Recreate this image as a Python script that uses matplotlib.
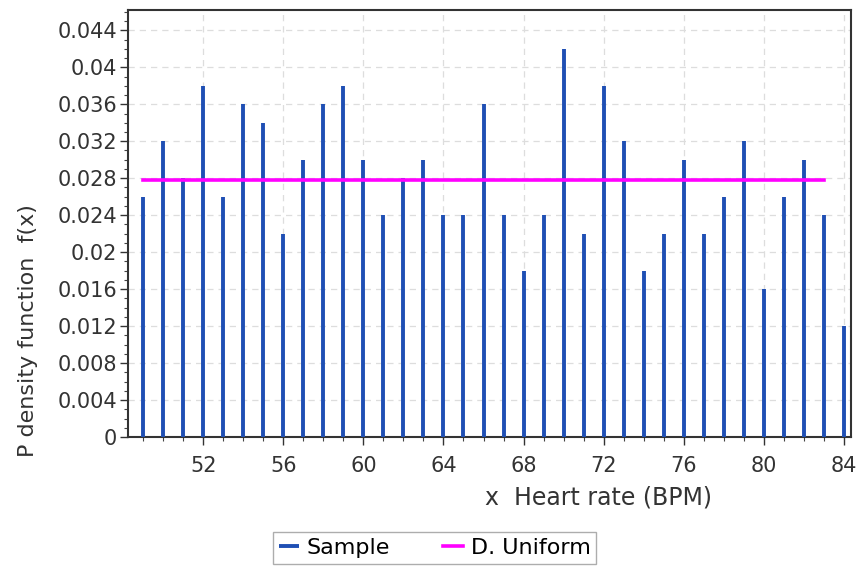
import numpy as np
import matplotlib.pyplot as plt
from matplotlib.ticker import MultipleLocator

heart_rate = list(range(49, 85))
sample_pdf = [0.026, 0.032, 0.028, 0.038, 0.026, 0.036, 0.034, 0.022, 0.030, 0.036,
              0.038, 0.030, 0.024, 0.028, 0.030, 0.024, 0.024, 0.036, 0.024, 0.018,
              0.024, 0.042, 0.022, 0.038, 0.032, 0.018, 0.022, 0.030, 0.022, 0.026,
              0.032, 0.016, 0.026, 0.030, 0.024, 0.012]
uniform_x = [49, 83]
uniform_pdf = [1 / 36, 1 / 36]

fig = plt.figure(figsize=(8.61, 5.70), dpi=100)
ax = fig.add_axes([0.1487, 0.2333, 0.8397, 0.7492])

ax.vlines(heart_rate, 0, sample_pdf, color='#1f4fb4', linewidth=2.8, label='Sample', zorder=3)
ax.plot(uniform_x, uniform_pdf, color='#ff00ff', linewidth=2.6, label='D. Uniform', zorder=4)

ax.set_xlim(48.25, 84.35)
ax.set_ylim(0, 0.0462)
ax.xaxis.set_minor_locator(MultipleLocator(1))
ax.yaxis.set_minor_locator(MultipleLocator(0.001))
yt = np.arange(0, 0.0441, 0.004)
ax.set_yticks(yt)
ax.set_yticklabels(['0'] + ['%g' % round(v, 3) for v in yt[1:]])
ax.set_xticks(range(52, 85, 4))
ax.tick_params(which='both', direction='out', color='#444444')
ax.tick_params(which='major', length=6, width=1, labelsize=15, colors='#333333', pad=2)
ax.tick_params(which='minor', length=3, width=0.8)
ax.tick_params(axis='x', which='major', pad=8)
ax.grid(True, which='major', linestyle=(0, (5, 4)), color='#dddddd', linewidth=0.9, zorder=0)
for s in ax.spines.values():
    s.set_linewidth(1.5)
    s.set_color('#333333')

ax.set_xlabel('x  Heart rate (BPM)', fontsize=17, color='#333333', va='center')
ax.xaxis.set_label_coords(0.651, -0.142)
ax.set_ylabel('P density function  f(x)', fontsize=16, color='#333333', va='center')
ax.yaxis.set_label_coords(-0.138, 0.25)

leg = fig.legend(loc='center', bbox_to_anchor=(0.505, 0.0385), ncol=2, fontsize=16,
                 frameon=True, fancybox=False, handlelength=0.9, handletextpad=0.35,
                 columnspacing=2.4, borderpad=0.25, edgecolor='#999999')
leg.get_frame().set_linewidth(1.0)

fig.savefig('out.png', dpi=100)
